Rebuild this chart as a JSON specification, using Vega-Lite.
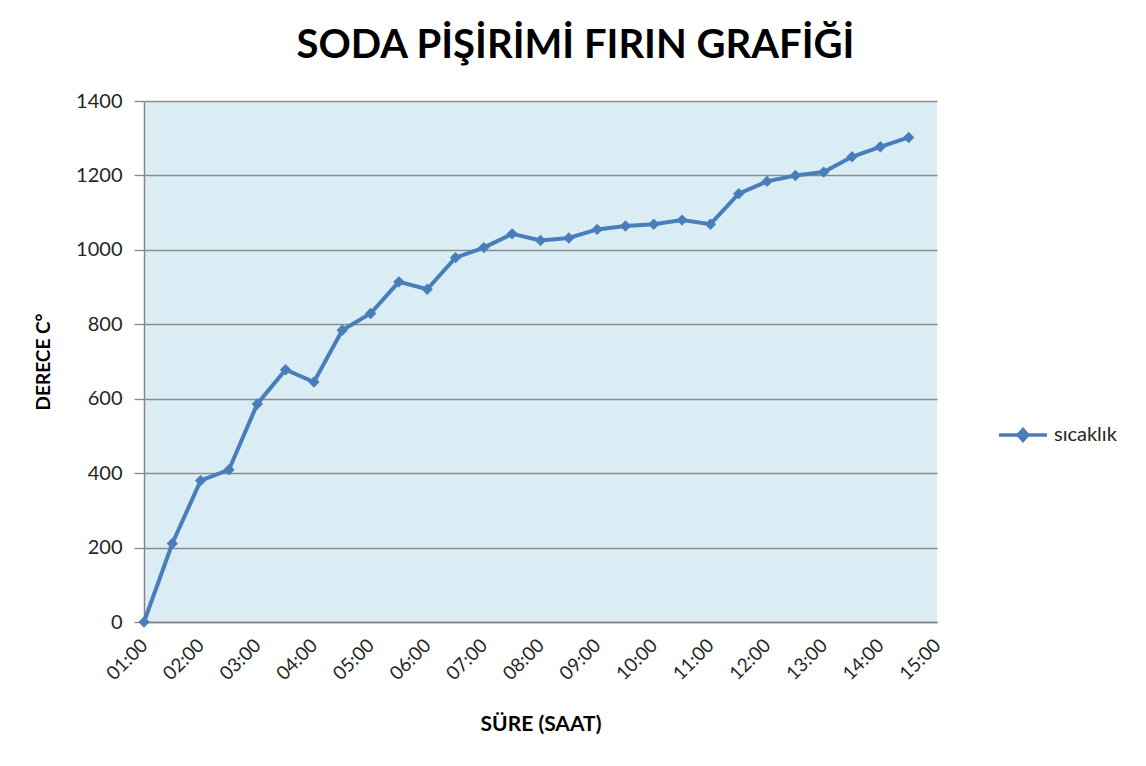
{
  "$schema": "https://vega.github.io/schema/vega-lite/v6.json",
  "width": 793,
  "height": 521,
  "autosize": {"type": "none"},
  "padding": {"left": 144, "top": 101, "right": 209, "bottom": 144},
  "background": "white",
  "title": {
    "text": "SODA PİŞİRİMİ FIRIN GRAFİĞİ",
    "font": "Lato",
    "fontSize": 40,
    "fontWeight": "bold",
    "color": "#000000",
    "anchor": "middle",
    "dx": 35,
    "offset": 25
  },
  "data": {
    "values": [
      {"saat": 1.0, "seri": "sıcaklık", "derece": 0},
      {"saat": 1.5, "seri": "sıcaklık", "derece": 211},
      {"saat": 2.0, "seri": "sıcaklık", "derece": 380},
      {"saat": 2.5, "seri": "sıcaklık", "derece": 409},
      {"saat": 3.0, "seri": "sıcaklık", "derece": 586},
      {"saat": 3.5, "seri": "sıcaklık", "derece": 678},
      {"saat": 4.0, "seri": "sıcaklık", "derece": 645},
      {"saat": 4.5, "seri": "sıcaklık", "derece": 784},
      {"saat": 5.0, "seri": "sıcaklık", "derece": 829},
      {"saat": 5.5, "seri": "sıcaklık", "derece": 914},
      {"saat": 6.0, "seri": "sıcaklık", "derece": 894},
      {"saat": 6.5, "seri": "sıcaklık", "derece": 979},
      {"saat": 7.0, "seri": "sıcaklık", "derece": 1006},
      {"saat": 7.5, "seri": "sıcaklık", "derece": 1043},
      {"saat": 8.0, "seri": "sıcaklık", "derece": 1025},
      {"saat": 8.5, "seri": "sıcaklık", "derece": 1032},
      {"saat": 9.0, "seri": "sıcaklık", "derece": 1055},
      {"saat": 9.5, "seri": "sıcaklık", "derece": 1064},
      {"saat": 10.0, "seri": "sıcaklık", "derece": 1069},
      {"saat": 10.5, "seri": "sıcaklık", "derece": 1080},
      {"saat": 11.0, "seri": "sıcaklık", "derece": 1069},
      {"saat": 11.5, "seri": "sıcaklık", "derece": 1151},
      {"saat": 12.0, "seri": "sıcaklık", "derece": 1184},
      {"saat": 12.5, "seri": "sıcaklık", "derece": 1200},
      {"saat": 13.0, "seri": "sıcaklık", "derece": 1209},
      {"saat": 13.5, "seri": "sıcaklık", "derece": 1250},
      {"saat": 14.0, "seri": "sıcaklık", "derece": 1277},
      {"saat": 14.5, "seri": "sıcaklık", "derece": 1302}
    ]
  },
  "encoding": {
    "x": {
      "field": "saat",
      "type": "quantitative",
      "scale": {"domain": [1, 15], "nice": false, "zero": false},
      "axis": {
        "title": "SÜRE (SAAT)",
        "values": [1, 2, 3, 4, 5, 6, 7, 8, 9, 10, 11, 12, 13, 14, 15],
        "labelExpr": "(datum.value < 10 ? '0' : '') + datum.value + ':00'",
        "labelAngle": -45,
        "labelAlign": "right",
        "labelBaseline": "middle",
        "labelPadding": 20,
        "labelFont": "Lato",
        "labelFontSize": 19,
        "labelColor": "#262626",
        "ticks": false,
        "domain": true,
        "domainColor": "#868686",
        "domainWidth": 1.5,
        "grid": false,
        "titleFont": "Lato",
        "titleFontSize": 21,
        "titleFontWeight": "bold",
        "titleColor": "#000000",
        "titlePadding": 30
      }
    },
    "y": {
      "field": "derece",
      "type": "quantitative",
      "scale": {"domain": [0, 1400], "nice": false},
      "axis": {
        "title": "DERECE C°",
        "values": [0, 200, 400, 600, 800, 1000, 1200, 1400],
        "format": "d",
        "labelFont": "Lato",
        "labelFontSize": 20,
        "labelColor": "#262626",
        "labelPadding": 12,
        "tickSize": 10,
        "tickColor": "#868686",
        "tickWidth": 1.3,
        "domainColor": "#868686",
        "domainWidth": 1.5,
        "gridColor": "#8c8c8c",
        "gridWidth": 1.3,
        "titleFont": "Lato",
        "titleFontSize": 19,
        "titleFontWeight": "bold",
        "titleColor": "#000000",
        "titlePadding": 22
      }
    },
    "color": {
      "field": "seri",
      "type": "nominal",
      "scale": {"range": ["#4a7ebb"]},
      "legend": {
        "title": null,
        "orient": "none",
        "legendX": 853,
        "legendY": 308,
        "symbolType": "M-1,0L1,0M-0.2,0L0,-0.22L0.2,0L0,0.22Z",
        "symbolSize": 2300,
        "symbolStrokeWidth": 3.5,
        "symbolFillColor": "#4a7ebb",
        "symbolStrokeColor": "#4a7ebb",
        "labelFont": "Lato",
        "labelFontSize": 20,
        "labelColor": "#262626",
        "labelOffset": 5
      }
    }
  },
  "layer": [
    {
      "mark": {
        "type": "line",
        "strokeWidth": 4,
        "point": {"shape": "diamond", "size": 130, "filled": true, "opacity": 1}
      }
    }
  ],
  "config": {
    "view": {"fill": "#dbedf4", "stroke": null},
    "legend": {"symbolOpacity": 1}
  }
}
